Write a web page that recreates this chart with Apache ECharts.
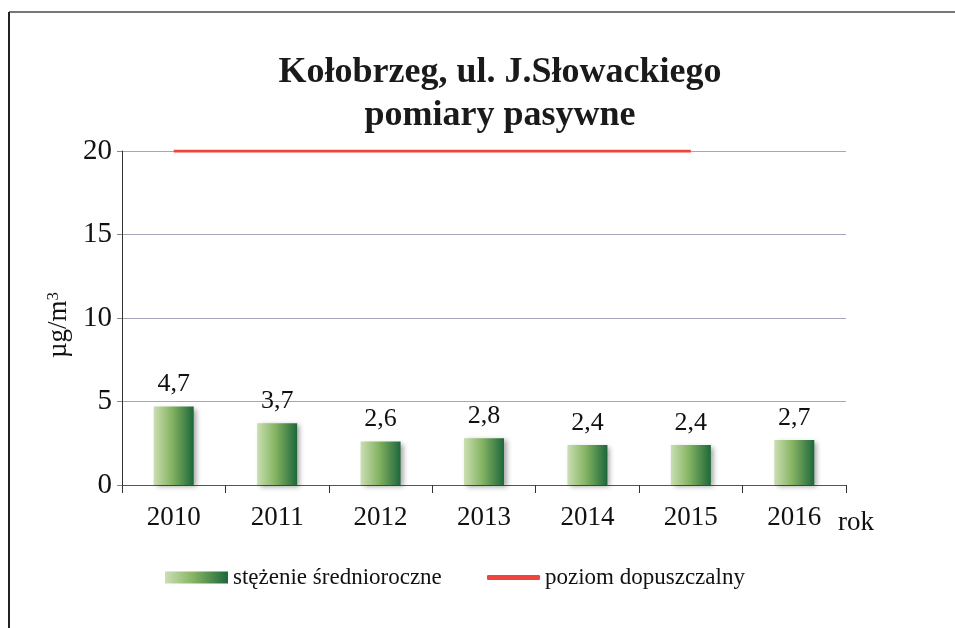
<!DOCTYPE html>
<html>
<head>
<meta charset="utf-8">
<script src="https://cdn.jsdelivr.net/npm/echarts@6/dist/echarts.min.js"></script>
<style>
  html, body { margin: 0; padding: 0; background: #fff; }
  #chart { width: 955px; height: 628px; }
</style>
</head>
<body>
<div id="chart"></div>
<script>
// dane
const years = ['2010', '2011', '2012', '2013', '2014', '2015', '2016'];
const stezenie = [4.7, 3.7, 2.6, 2.8, 2.4, 2.4, 2.7];
const poziom = [20, 20, 20, 20, 20, 20, null];
const yTicks = [0, 5, 10, 15, 20];

const serif = '"Liberation Serif", "DejaVu Serif", serif';
const barGradient = new echarts.graphic.LinearGradient(0, 0, 1, 0, [
  { offset: 0, color: '#cadfb2' },
  { offset: 0.45, color: '#86b463' },
  { offset: 1, color: '#1d673a' }
]);

const myChart = echarts.init(document.getElementById('chart'));
const option = {
  backgroundColor: '#fff',
  title: {
    text: 'Kołobrzeg, ul. J.Słowackiego\npomiary pasywne',
    left: 495,
    top: 46,
    textAlign: 'center',
    textStyle: {
      fontFamily: serif,
      fontWeight: 'bold',
      fontSize: 36,
      lineHeight: 43,
      color: '#1a1a1a'
    }
  },
  grid: { left: 122, right: 109, top: 151, bottom: 143 },
  legend: [
    {
      bottom: 34,
      left: 160,
      itemWidth: 63,
      itemHeight: 12,
      itemGap: 4,
      textStyle: { fontFamily: serif, fontSize: 23, color: '#111' },
      data: [{ name: 'stężenie średnioroczne', icon: 'rect' }]
    },
    {
      bottom: 34,
      left: 482,
      itemWidth: 53,
      itemHeight: 5,
      itemGap: 4,
      textStyle: { fontFamily: serif, fontSize: 23, color: '#111' },
      data: [{ name: 'poziom dopuszczalny', icon: 'roundRect', itemStyle: { color: '#f0443e' } }]
    }
  ],
  xAxis: {
    type: 'category',
    data: years,
    name: 'rok',
    nameLocation: 'end',
    nameGap: -8,
    nameTextStyle: { fontFamily: serif, fontSize: 27, color: '#111', align: 'left', verticalAlign: 'top', padding: [24, 0, 0, 0] },
    axisLine: { lineStyle: { color: '#555', width: 1 } },
    axisTick: { show: true, alignWithLabel: false, length: 8, lineStyle: { color: '#333' } },
    axisLabel: { fontFamily: serif, fontSize: 27, color: '#111', margin: 19 }
  },
  yAxis: {
    type: 'value',
    min: 0,
    max: 20,
    interval: 5,
    name: '{m|µg/m}{s|3}',
    nameLocation: 'middle',
    nameGap: 50,
    nameRotate: 90,
    nameTextStyle: {
      fontFamily: serif, color: '#111', padding: [0, 14, 0, 0],
      rich: {
        m: { fontFamily: serif, fontSize: 27, color: '#111' },
        s: { fontFamily: serif, fontSize: 17, color: '#111', verticalAlign: 'top', padding: [0, 0, 10, 0] }
      }
    },
    axisLine: { show: true, lineStyle: { color: '#333', width: 1 } },
    axisTick: { show: true, length: 5, lineStyle: { color: '#888' } },
    axisLabel: {
      fontFamily: serif, fontSize: 29, color: '#111', margin: 10,
      formatter: v => yTicks.includes(v) ? String(v) : ''
    },
    splitLine: { lineStyle: { color: '#a6a6bb', width: 1.2 } }
  },
  series: [
    {
      name: 'stężenie średnioroczne',
      type: 'bar',
      data: stezenie,
      barWidth: 40,
      itemStyle: {
        color: barGradient,
        shadowColor: 'rgba(0,0,0,0.35)',
        shadowBlur: 5,
        shadowOffsetX: 3,
        shadowOffsetY: 2
      },
      label: {
        show: true,
        position: 'top',
        distance: 9,
        fontFamily: serif,
        fontSize: 26,
        color: '#111',
        formatter: p => String(p.value).replace('.', ',')
      },
      z: 3
    },
    {
      name: 'poziom dopuszczalny',
      type: 'line',
      data: poziom,
      symbol: 'none',
      lineStyle: { color: '#f0443e', width: 3 },
      itemStyle: { color: '#f0443e' },
      z: 4
    }
  ],
  graphic: [
    { type: 'line', shape: { x1: 9, y1: 12, x2: 955, y2: 12 }, style: { stroke: '#777', lineWidth: 2 } },
    { type: 'line', shape: { x1: 9, y1: 12, x2: 9, y2: 628 }, style: { stroke: '#222', lineWidth: 2 } }
  ]
};
myChart.setOption(option);
window.addEventListener('resize', function () {
  myChart.resize();
});
</script>
</body>
</html>
